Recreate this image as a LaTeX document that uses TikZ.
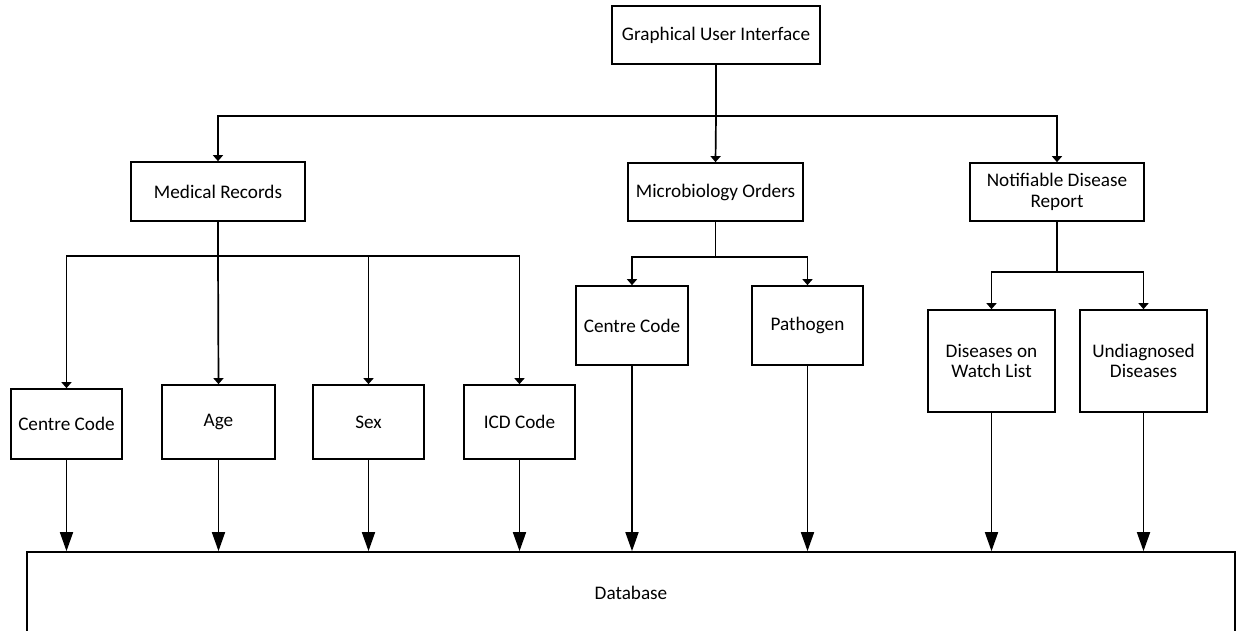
\documentclass[tikz,border=0pt]{standalone}
\usepackage{fontspec}
\setmainfont{Carlito}
\usetikzlibrary{arrows.meta}

\begin{document}
\begin{tikzpicture}[
  x=1pt, y=-1pt,
  line width=1.7pt,
  every node/.style={font=\fontsize{19.2}{20.5}\selectfont},
  box/.style={draw, rectangle, inner sep=0pt, align=center},
  sarrow/.style={-{Triangle[width=10pt,length=6pt]}},
  barrow/.style={-{Triangle[width=13pt,length=19pt]}},
  plain/.style={-},
]
\useasboundingbox (0,0) rectangle (1240,630);

% top level
\node[box, minimum width=208pt, minimum height=58pt] (gui) at (716,35) {Graphical User Interface};

% second level
\node[box, minimum width=174pt, minimum height=59pt] (med)   at (218,191.5) {Medical Records};
\node[box, minimum width=175pt, minimum height=58pt] (micro) at (715.5,192) {Microbiology Orders};
\node[box, minimum width=174pt, minimum height=58pt] (notif) at (1057,192) {Notifiable Disease\\Report};

% medical record fields
\node[box, minimum width=111pt, minimum height=70pt] (cc1) at (66.5,424) {Centre Code};
\node[box, minimum width=113pt, minimum height=74pt] (age) at (218.5,422) {Age};
\node[box, minimum width=111pt, minimum height=74pt] (sex) at (368.5,422) {Sex};
\node[box, minimum width=111pt, minimum height=74pt] (icd) at (519.5,422) {ICD Code};

% microbiology fields
\node[box, minimum width=112pt, minimum height=79pt] (cc2)  at (632,325.5) {Centre Code};
\node[box, minimum width=111pt, minimum height=79pt] (path) at (807.5,325.5) {Pathogen};

% notifiable disease fields
\node[box, minimum width=127pt, minimum height=102pt] (watch) at (991.5,361) {Diseases on\\Watch List};
\node[box, minimum width=127pt, minimum height=102pt] (undx)  at (1143.5,361) {Undiagnosed\\Diseases};

% database
\node[box, minimum width=1208pt, minimum height=82pt] (db) at (631,593) {Database};

% bus junctions
\coordinate (guibus)   at (716,116);
\coordinate (medbus)   at (218,256);
\coordinate (microbus) at (715.5,257);
\coordinate (notifbus) at (1057,272);

% GUI branches
\draw[plain] (gui.south) -- (guibus);
\draw[sarrow] (guibus) -| (med.north);
\draw[sarrow] (guibus) -- (micro.north);
\draw[sarrow] (guibus) -| (notif.north);

% medical records branches
\draw[plain] (med.south) -- (medbus);
\draw[sarrow] (medbus) -| (cc1.north);
\draw[sarrow] (medbus) -- (age.north);
\draw[sarrow] (medbus) -| (sex.north);
\draw[sarrow] (medbus) -| (icd.north);

% microbiology branches
\draw[plain] (micro.south) -- (microbus);
\draw[sarrow] (microbus) -| (cc2.north);
\draw[sarrow] (microbus) -| (path.north);

% notifiable disease branches
\draw[plain] (notif.south) -- (notifbus);
\draw[sarrow] (notifbus) -| (watch.north);
\draw[sarrow] (notifbus) -| (undx.north);

% everything feeds the database
\foreach \n in {cc1,age,sex,icd,cc2,path,watch,undx}{
  \draw[barrow] (\n.south) -- (\n.south |- db.north);
}
\end{tikzpicture}
\end{document}
